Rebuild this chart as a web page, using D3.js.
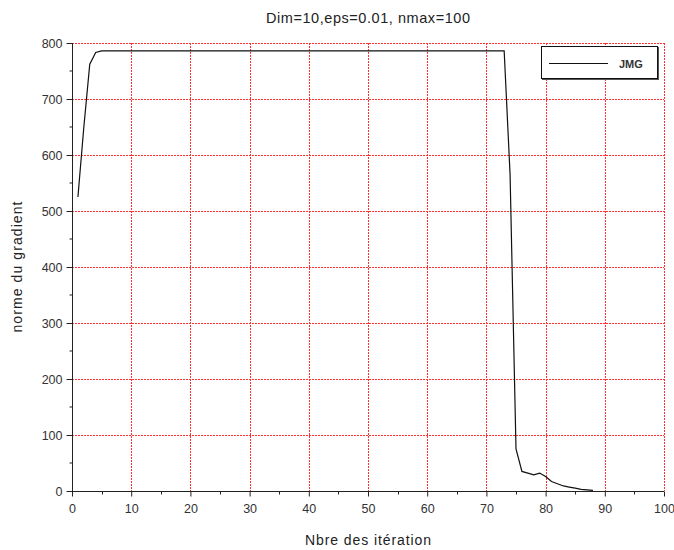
<!DOCTYPE html>
<html>
<head>
<meta charset="utf-8">
<script src="https://cdn.jsdelivr.net/npm/d3@7"></script>
<style>
  html, body { margin: 0; padding: 0; background: #fff; }
  svg { display: block; font-family: "Liberation Sans", Arial, sans-serif; }
</style>
</head>
<body>
<svg id="chart" width="674" height="550"></svg>
<script>
// ---- data ----
const titleText = "Dim=10,eps=0.01, nmax=100";
const xLabel = "Nbre des itération";
const yLabel = "norme du gradient";
const seriesName = "JMG";
const xTicks = [0, 10, 20, 30, 40, 50, 60, 70, 80, 90, 100];
const yTicks = [0, 100, 200, 300, 400, 500, 600, 700, 800];
const iterations = [
  1,2,3,4,5,6,7,8,9,10,11,12,13,14,15,16,17,18,19,20,
  21,22,23,24,25,26,27,28,29,30,31,32,33,34,35,36,37,38,39,40,
  41,42,43,44,45,46,47,48,49,50,51,52,53,54,55,56,57,58,59,60,
  61,62,63,64,65,66,67,68,69,70,71,72,73,74,75,76,77,78,79,80,
  81,82,83,84,85,86,87,88
];
const gradNorm = [
  525,650,762,783,786,786,786,786,786,786,786,786,786,786,786,786,786,786,786,786,
  786,786,786,786,786,786,786,786,786,786,786,786,786,786,786,786,786,786,786,786,
  786,786,786,786,786,786,786,786,786,786,786,786,786,786,786,786,786,786,786,786,
  786,786,786,786,786,786,786,786,786,786,786,786,786,565,75,35,32,29,32,26,
  17,13,9,7,5,3,2,1
];

// ---- layout ----
const svg = d3.select("#chart");
const L = 72, R = 664, T = 43, B = 491;
const x = d3.scaleLinear().domain([0, 100]).range([L, R]);
const y = d3.scaleLinear().domain([0, 800]).range([B, T]);

// grid (red dotted)
const grid = svg.append("g");
xTicks.filter(d => d > 0).forEach(d => {
  grid.append("line").attr("x1", Math.round(x(d)) + 0.5).attr("x2", Math.round(x(d)) + 0.5)
    .attr("y1", T).attr("y2", B)
    .attr("stroke", "#ff3030").attr("stroke-width", 1).attr("stroke-dasharray", "2,1");
});
yTicks.filter(d => d > 0).forEach(d => {
  grid.append("line").attr("x1", L).attr("x2", R)
    .attr("y1", Math.round(y(d)) + 0.5).attr("y2", Math.round(y(d)) + 0.5)
    .attr("stroke", "#ff3030").attr("stroke-width", 1).attr("stroke-dasharray", "2,1");
});

// axes
const xAxis = d3.axisBottom(x).tickValues(xTicks).tickSize(5).tickPadding(8);
const yAxis = d3.axisLeft(y).tickValues(yTicks).tickSize(6).tickPadding(4);
const gx = svg.append("g").attr("transform", `translate(0,${Math.round(B) + 0.5})`).call(xAxis);
const gy = svg.append("g").attr("transform", `translate(${L + 0.5},0)`).call(yAxis);
[gx, gy].forEach(g => {
  g.select(".domain").attr("stroke", "#222");
  g.selectAll(".tick line").attr("stroke", "#222");
  g.selectAll(".tick text").attr("fill", "#333").attr("font-size", 12.5)
    .attr("font-family", "'Liberation Sans', Arial, sans-serif");
});
gx.select(".domain").attr("d", `M${L},0H${R}`);
gy.select(".domain").attr("d", `M0,${B}V${T}`);

// minor ticks
const xMinor = d3.scaleLinear().domain([0, 100]).ticks(20).filter(d => d % 10 !== 0);
const yMinor = d3.scaleLinear().domain([0, 800]).ticks(16).filter(d => d % 100 !== 0);
gx.selectAll(".minor").data(xMinor).enter().append("line")
  .attr("x1", d => Math.round(x(d)) + 0.5).attr("x2", d => Math.round(x(d)) + 0.5)
  .attr("y1", 0).attr("y2", 3).attr("stroke", "#222");
gy.selectAll(".minor").data(yMinor).enter().append("line")
  .attr("y1", d => Math.round(y(d))).attr("y2", d => Math.round(y(d)))
  .attr("x1", 0).attr("x2", -3).attr("stroke", "#222");

// line
const line = d3.line().x((d, i) => x(iterations[i])).y(d => y(d));
svg.append("path").datum(gradNorm).attr("d", line)
  .attr("fill", "none").attr("stroke", "#111").attr("stroke-width", 1.2);

// legend
const lg = svg.append("g");
lg.append("rect").attr("x", 542.5).attr("y", 47.5).attr("width", 116).attr("height", 32)
  .attr("fill", "none").attr("stroke", "#555").attr("stroke-width", 1);
lg.append("rect").attr("x", 541.5).attr("y", 46.5).attr("width", 116).attr("height", 32)
  .attr("fill", "#fff").attr("stroke", "#111").attr("stroke-width", 1);
lg.append("line").attr("x1", 549).attr("x2", 608).attr("y1", 63.5).attr("y2", 63.5)
  .attr("stroke", "#111").attr("stroke-width", 1.2);
lg.append("text").attr("x", 619).attr("y", 67.5).attr("font-size", 11).attr("font-weight", "bold")
  .attr("fill", "#333").text(seriesName);

// title and labels
svg.append("text").attr("x", (L + R) / 2).attr("y", 23).attr("text-anchor", "middle")
  .attr("font-size", 14.5).attr("fill", "#222")
  .attr("textLength", 204).attr("lengthAdjust", "spacing").text(titleText);
svg.append("text").attr("x", (L + R) / 2).attr("y", 545).attr("text-anchor", "middle")
  .attr("font-size", 14).attr("fill", "#222")
  .attr("textLength", 126).attr("lengthAdjust", "spacing").text(xLabel);
svg.append("text").attr("transform", `translate(22,${(T + B) / 2}) rotate(-90)`)
  .attr("text-anchor", "middle").attr("font-size", 14).attr("fill", "#222")
  .attr("textLength", 131).attr("lengthAdjust", "spacing").text(yLabel);
</script>
</body>
</html>
